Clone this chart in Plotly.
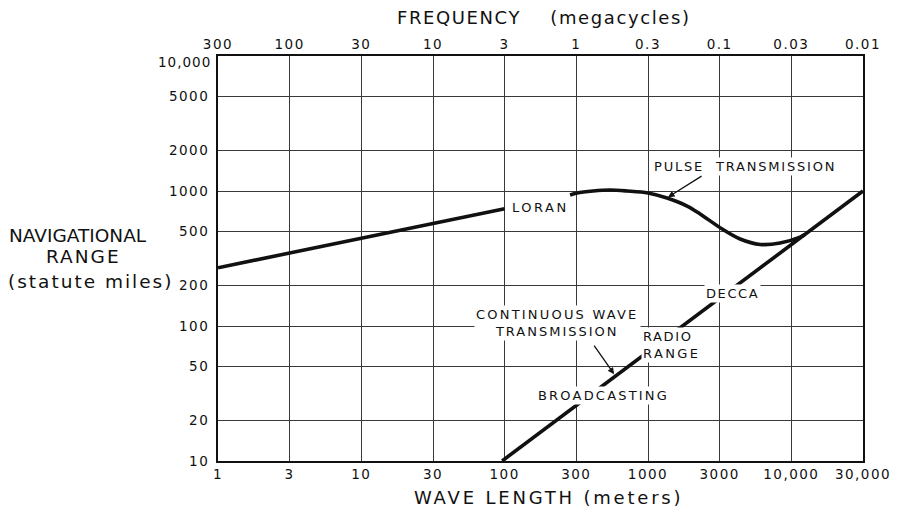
import math
import plotly.graph_objects as go

# ---------------- data ----------------
wave_tick_labels = ["1", "3", "10", "30", "100", "300", "1000", "3000", "10,000", "30,000"]
freq_tick_labels = ["300", "100", "30", "10", "3", "1", "0.3", "0.1", "0.03", "0.01"]
range_tick_vals = [10, 20, 50, 100, 200, 500, 1000, 2000, 5000, 10000]
range_tick_labels = ["10", "20", "50", "100", "200", "500", "1000", "2000", "5000", "10,000"]

# LORAN (straight part)
loran_wave = [1, 100]
loran_range = [270, 740]

# Pulse transmission curve
pulse_wave = [286, 320, 414, 544, 715, 1000, 1358, 1874, 2310, 3290, 4390, 6060, 8350, 11500, 12500]
pulse_range = [934, 967, 1000, 1016, 1000, 967, 887, 774, 676, 523, 441, 402, 412, 456, 478]

# Continuous wave transmission (broadcasting / radio range / Decca)
cw_wave = [96, 31600]
cw_range = [10, 1000]

FONT = "DejaVu Sans"
INK = "#111111"


def sp(text, ls):
    return f'<span style="letter-spacing:{ls}px">{text}</span>'


# the chart's wave-length scale steps in equal half-decades (1, 3, 10, 30 ...)
tick_pos = [10 ** (i / 2) for i in range(len(wave_tick_labels))]

fig = go.Figure()

line_style = dict(color=INK, width=3.6)
fig.add_trace(go.Scatter(x=loran_wave, y=loran_range, mode="lines", line=line_style,
                         hoverinfo="skip", showlegend=False))
fig.add_trace(go.Scatter(x=pulse_wave, y=pulse_range, mode="lines",
                         line=dict(color=INK, width=3.6, shape="spline", smoothing=0.9),
                         hoverinfo="skip", showlegend=False))
fig.add_trace(go.Scatter(x=cw_wave, y=cw_range, mode="lines", line=line_style,
                         hoverinfo="skip", showlegend=False))
# invisible trace so the top (frequency) axis is laid out
fig.add_trace(go.Scatter(x=cw_wave, y=cw_range, xaxis="x2", mode="markers",
                         marker=dict(opacity=0), hoverinfo="skip", showlegend=False))

tickfont = dict(family=FONT, size=13.5, color=INK)
grid = dict(showgrid=True, gridcolor="#3a3a3a", gridwidth=1)

# top y label is drawn separately (it sits a little lower in the reference)
y_ticktext = [sp(t, 1.5) for t in range_tick_labels[:-1]] + [""]

fig.update_layout(
    width=902, height=512,
    margin=dict(l=218, r=39, t=56, b=51),
    paper_bgcolor="white", plot_bgcolor="white",
    xaxis=dict(type="log", range=[0, 4.5], tickvals=tick_pos,
               ticktext=[sp(t, 1.5) for t in wave_tick_labels],
               tickfont=tickfont, ticks="", showline=True, linewidth=2,
               linecolor=INK, mirror=True, zeroline=False, **grid),
    xaxis2=dict(type="log", range=[0, 4.5], overlaying="x", side="top",
                tickvals=tick_pos, ticktext=[sp(t, 1.5) for t in freq_tick_labels],
                tickfont=tickfont, ticks="", ticklabelstandoff=3,
                showline=False, showgrid=False, zeroline=False),
    yaxis=dict(type="log", range=[1, 4], tickvals=range_tick_vals,
               ticktext=y_ticktext,
               tickfont=tickfont, ticks="", ticklabelstandoff=4,
               showline=True, linewidth=2, linecolor=INK, mirror=True,
               zeroline=False, **grid),
)

fig.add_annotation(xref="paper", yref="y", x=0, y=math.log10(range_tick_vals[-1]),
                   text=sp(range_tick_labels[-1], 1.0), showarrow=False, font=tickfont,
                   xanchor="right", yanchor="middle", xshift=-5, yshift=-6)

lab_font = dict(family=FONT, size=13, color=INK)
labels = [
    (sp("LORAN", 2.5), 177, 760, "center"),
    (sp("PULSE&nbsp;&nbsp;TRANSMISSION", 1.8), 4760, 1530, "center"),
    (sp("CONTINUOUS WAVE", 2.2) + "<br>" + sp("TRANSMISSION", 2.0), 232, 105, "center"),
    (sp("RADIO", 1.6) + "<br>" + sp("RANGE", 2.4), 895, 72, "left"),
    (sp("DECCA", 1.6), 3860, 175, "center"),
    (sp("BROADCASTING", 2.2), 486, 30.8, "center"),
]
for text, xv, yv, anchor in labels:
    fig.add_annotation(x=math.log10(xv), y=math.log10(yv), xref="x", yref="y",
                       text=text, showarrow=False, font=lab_font, align=anchor,
                       xanchor=anchor, yanchor="middle", bgcolor="white",
                       borderpad=1)

# leader arrows
arrows = [(1380, 900, 35, -22), (580, 44, -21, -30)]
for xv, yv, dx, dy in arrows:
    fig.add_annotation(x=math.log10(xv), y=math.log10(yv), xref="x", yref="y",
                       text="", showarrow=True, ax=dx, ay=dy, arrowhead=2,
                       arrowsize=1.0, arrowwidth=1.3, arrowcolor=INK, standoff=0)

title_font = dict(family=FONT, size=18, color=INK)
fig.add_annotation(xref="paper", yref="paper", x=0.5047, y=1.094,
                   text=sp("FREQUENCY&nbsp;&nbsp;&nbsp;&nbsp;(megacycles)", 1.6),
                   showarrow=False, font=title_font, xanchor="center", yanchor="middle")
fig.add_annotation(xref="paper", yref="paper", x=0.512, y=-0.089,
                   text=sp("WAVE LENGTH (meters)", 2.8),
                   showarrow=False, font=title_font, xanchor="center", yanchor="middle")

ytitle_font = dict(family=FONT, size=18.5, color=INK)
for text, xp, yp in [(sp("NAVIGATIONAL", 0), -0.217, 0.556),
                     (sp("RANGE", 2), -0.209, 0.504),
                     (sp("(statute miles)", 2), -0.198, 0.442)]:
    fig.add_annotation(xref="paper", yref="paper", x=xp, y=yp, text=text,
                       showarrow=False, font=ytitle_font, xanchor="center",
                       yanchor="middle")

fig.write_html("out.html")
